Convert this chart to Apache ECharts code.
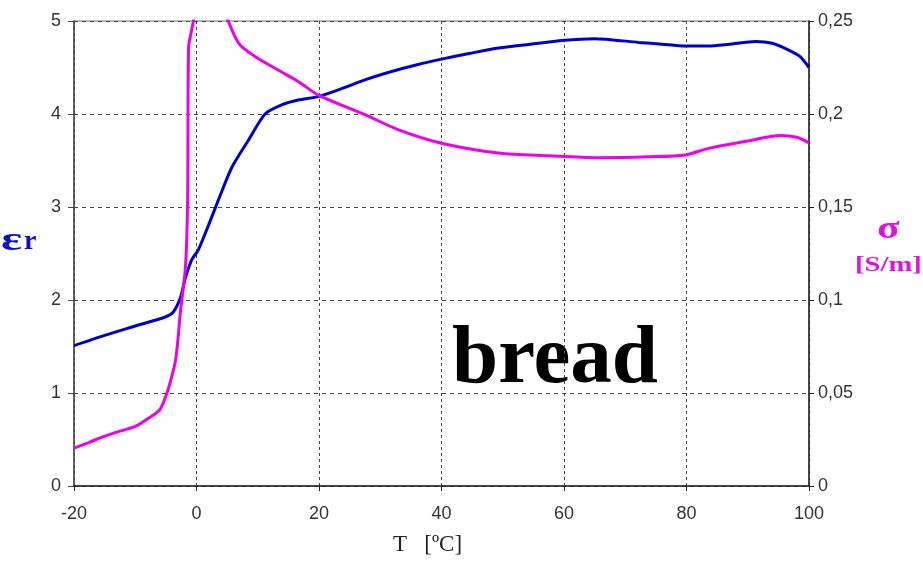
<!DOCTYPE html>
<html>
<head>
<meta charset="utf-8">
<script src="https://cdn.jsdelivr.net/npm/echarts@6/dist/echarts.min.js"></script>
<style>
html,body{margin:0;padding:0;background:#fff;}
#chart{width:923px;height:564px;}
</style>
</head>
<body>
<div id="chart"></div>
<script>
// ---- data ----
var xTicks = [-20, 0, 20, 40, 60, 80, 100];
var leftTicks = [0, 1, 2, 3, 4, 5];
var rightTicks = ['0', '0,05', '0,1', '0,15', '0,2', '0,25'];

// εr (left axis)
var blueT = [-20,-15,-10,-5,-3.8,-2.6,-1.8,-0.8,0.3,2,3.6,5.8,8.5,11.2,14,16.6,20,24,27.6,32,36,40,44.5,49.3,55.8,59.6,65,72.2,76,79.8,83.6,87,91.3,94,96.6,98.5,100];
var epsR  = [1.51,1.62,1.72,1.82,1.87,2.03,2.24,2.43,2.54,2.81,3.08,3.43,3.72,4.0,4.1,4.15,4.19,4.28,4.37,4.46,4.53,4.59,4.65,4.71,4.76,4.79,4.81,4.77,4.75,4.73,4.73,4.75,4.78,4.76,4.69,4.62,4.5];

// σ [S/m] (right axis)
var pinkT = [-20,-17.5,-15.2,-12.5,-10,-7.8,-6,-5.1,-4.4,-3.4,-2.6,-1.8,-1.45,-1.3,-0.8,-0.5,1,3,4,5.2,6.9,9.3,13.4,16.6,20,27.6,33,40,49.3,57.5,65.6,73.8,79.8,83.6,90,95.3,98,100];
var sigma = [0.0204,0.0235,0.0265,0.0295,0.032,0.0365,0.041,0.0475,0.0545,0.068,0.0945,0.118,0.154,0.2355,0.245,0.25,0.27,0.27,0.262,0.25,0.238,0.2315,0.2235,0.2175,0.21,0.1995,0.1915,0.1843,0.179,0.1775,0.1765,0.177,0.178,0.1815,0.1855,0.1885,0.1875,0.1845];

function pairs(xs, ys){ return xs.map(function(x,i){ return [x, ys[i]]; }); }

var chart = echarts.init(document.getElementById('chart'));
var labelFont = {fontFamily:'"Liberation Sans", Arial, sans-serif', fontSize:18, color:'#333'};

chart.setOption({
  backgroundColor:'#ffffff',
  animation:false,
  grid:{left:74, right:114, top:21, bottom:78, show:true, borderColor:'#777', borderWidth:1, backgroundColor:'transparent'},
  xAxis:{
    type:'value', min:xTicks[0], max:xTicks[xTicks.length-1], interval:20,
    axisLine:{show:true, onZero:false, lineStyle:{color:'#222', width:1.5}},
    axisTick:{show:true, length:5, lineStyle:{color:'#222'}},
    axisLabel:Object.assign({margin:19}, labelFont),
    splitLine:{show:true, lineStyle:{color:'#444', type:[3,3], width:1}}
  },
  yAxis:[{
    type:'value', min:leftTicks[0], max:leftTicks[leftTicks.length-1], interval:1, position:'left',
    axisLine:{show:true, onZero:false, lineStyle:{color:'#444', width:1.5}},
    axisTick:{show:true, length:6, lineStyle:{color:'#444'}},
    axisLabel:Object.assign({margin:13}, labelFont),
    splitLine:{show:true, lineStyle:{color:'#444', type:[4,4], width:1}}
  },{
    type:'value', min:0, max:0.25, interval:0.05, position:'right',
    axisLine:{show:true, onZero:false, lineStyle:{color:'#222', width:1.5}},
    axisTick:{show:true, length:5, lineStyle:{color:'#222'}},
    axisLabel:Object.assign({margin:9, formatter:function(v){
      var i = Math.round(v/0.05); return rightTicks[i];
    }}, labelFont),
    splitLine:{show:false}
  }],
  series:[{
    type:'line', yAxisIndex:0, data:pairs(blueT, epsR), showSymbol:false,
    smooth:0.25, clip:true,
    lineStyle:{color:'#0000cc', width:3}
  },{
    type:'line', yAxisIndex:1, data:pairs(pinkT, sigma), showSymbol:false,
    smooth:0.3, clip:true,
    lineStyle:{color:'#ee00ee', width:3}
  }],
  graphic:[
    {type:'text', x:1, y:241, scaleX:1.5, style:{text:'ε', fill:'#1010c8', font:'bold 33px "Liberation Serif", serif', align:'left', verticalAlign:'middle'}},
    {type:'text', x:24, y:242, style:{text:'r', fill:'#1010c8', font:'bold 28px "Liberation Serif", serif', align:'left', verticalAlign:'middle'}},
    {type:'text', x:877, y:230, scaleX:1.3, style:{text:'σ', fill:'#e010e0', font:'bold 32px "Liberation Serif", serif', align:'left', verticalAlign:'middle'}},
    {type:'text', x:855, y:266, scaleX:1.43, style:{text:'[S/m]', fill:'#e010e0', font:'bold 20px "Liberation Serif", serif', align:'left', verticalAlign:'middle'}},
    {type:'text', x:452, y:361, style:{text:'bread', fill:'#000', font:'bold 83px "Liberation Serif", serif', align:'left', verticalAlign:'middle'}},
    {type:'text', x:393, y:545, style:{text:'T   [ºC]', fill:'#222', font:'23px "Liberation Serif", serif', align:'left', verticalAlign:'middle'}}
  ]
});
</script>
</body>
</html>
